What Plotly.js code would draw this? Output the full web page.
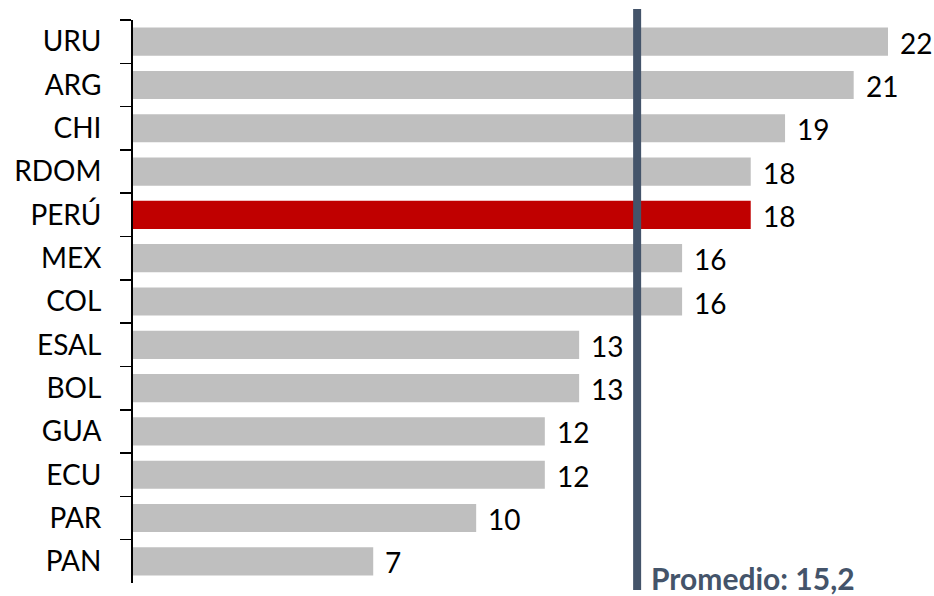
<!DOCTYPE html>
<html>
<head>
<meta charset="utf-8">
<script src="https://cdn.plot.ly/plotly-3.0.1.min.js"></script>
<style>html,body{margin:0;padding:0;background:#fff}#chart{width:934px;height:596px}</style>
</head>
<body>
<div id="chart"></div>
<script>
const countries = ["URU","ARG","CHI","RDOM","PERÚ","MEX","COL","ESAL","BOL","GUA","ECU","PAR","PAN"];
const values = [22,21,19,18,18,16,16,13,13,12,12,10,7];
const highlight = "PERÚ";
const averageLabel = "Promedio: 15,2";
const averageLinePos = 14.69; // position of the line as drawn in the reference

const colors = countries.map(c => c === highlight ? "#C00000" : "#BFBFBF");
const fontFam = "Lato, 'Open Sans', sans-serif";

const trace = {
  type: "bar",
  orientation: "h",
  y: countries,
  x: values,
  marker: {color: colors},
  width: 0.65,
  hoverinfo: "x+y"
};

const annotations = countries.map((c, i) => ({
  x: values[i], y: c, xref: "x", yref: "y",
  text: String(values[i]), showarrow: false,
  xanchor: "left", xshift: 10, yshift: -1,
  font: {family: fontFam, size: 28, color: "#000"}
}));
annotations.push({
  x: averageLinePos, y: 0.008, xref: "x", yref: "paper",
  text: "<b>" + averageLabel + "</b>", showarrow: false,
  xanchor: "left", yanchor: "middle", xshift: 12,
  font: {family: fontFam, size: 30, color: "#44546A"}
});

const layout = {
  width: 934, height: 596,
  margin: {l: 133, r: 46, t: 20, b: 13},
  paper_bgcolor: "#fff", plot_bgcolor: "#fff",
  showlegend: false,
  bargap: 0.35,
  xaxis: {range: [0, 22], visible: false, fixedrange: true},
  yaxis: {
    autorange: "reversed",
    type: "category",
    showline: true, linecolor: "#000", linewidth: 2,
    ticks: "outside", tickson: "boundaries", ticklen: 11, tickwidth: 1.5, tickcolor: "#000",
    ticklabelstandoff: 24,
    showgrid: false, zeroline: false,
    tickfont: {family: fontFam, size: 28, color: "#000"}
  },
  shapes: [{
    type: "line", xref: "x", yref: "paper",
    x0: averageLinePos, x1: averageLinePos, y0: -0.0124, y1: 1.0195,
    line: {color: "#44546A", width: 8}, layer: "above"
  }],
  annotations: annotations
};

Plotly.newPlot("chart", [trace], layout, {displayModeBar: false, staticPlot: true});
</script>
</body>
</html>
